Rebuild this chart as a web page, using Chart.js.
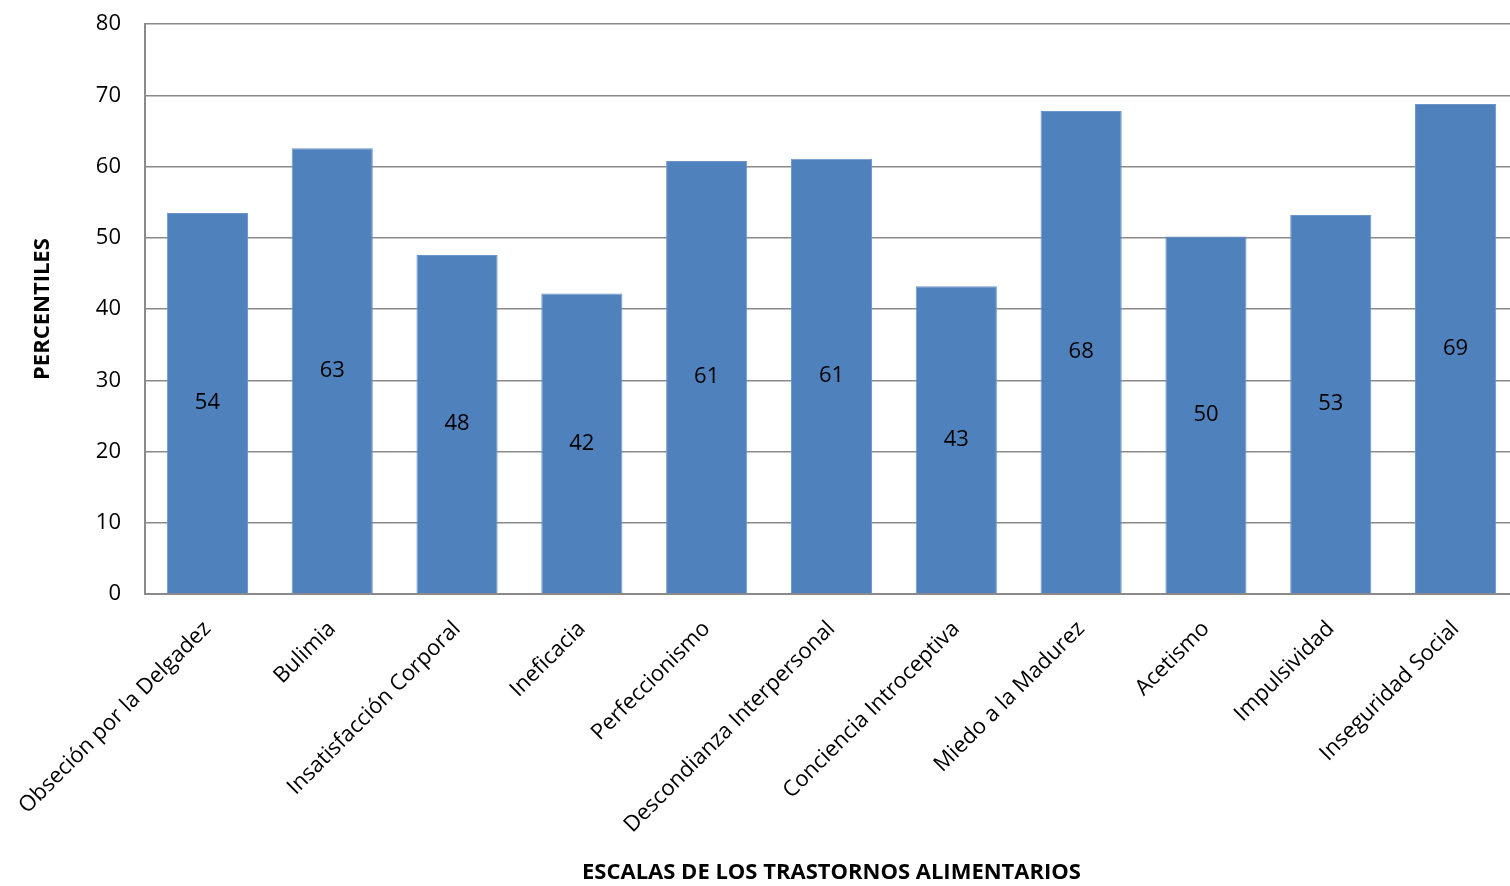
<!DOCTYPE html>
<html>
<head>
<meta charset="utf-8">
<script src="https://cdn.jsdelivr.net/npm/chart.js@4"></script>
<style>
  html, body { margin: 0; padding: 0; background: #fff; overflow: hidden; }
  #wrap { width: 1510px; height: 886px; overflow: hidden; }
  /* the plot runs a little past the right edge and the top labels sit close to the border */
  #chart { display: block; margin-top: -13px; }
</style>
</head>
<body>
<div id="wrap"><canvas id="chart" width="1518" height="899"></canvas></div>
<script>
const escalas = [
  'Obseción por la Delgadez', 'Bulimia', 'Insatisfacción Corporal', 'Ineficacia',
  'Perfeccionismo', 'Descondianza Interpersonal', 'Conciencia Introceptiva',
  'Miedo a la Madurez', 'Acetismo', 'Impulsividad', 'Inseguridad Social'
];
const percentiles = [53.5, 62.6, 47.6, 42.2, 60.8, 61.1, 43.2, 67.8, 50.2, 53.2, 68.8];
const yTicks = [0, 10, 20, 30, 40, 50, 60, 70, 80];

const FONT = '"Open Sans", Carlito, Lato, sans-serif';

// writes each bar's rounded value in the middle of the bar
const barValues = {
  id: 'barValues',
  afterDatasetsDraw(chart) {
    const ctx = chart.ctx;
    const meta = chart.getDatasetMeta(0);
    ctx.save();
    ctx.font = '22px ' + FONT;
    ctx.fillStyle = '#000';
    ctx.textAlign = 'center';
    ctx.textBaseline = 'middle';
    meta.data.forEach((bar, i) => {
      const mid = (bar.y + bar.base) / 2;
      ctx.fillText(Math.round(percentiles[i]), bar.x, mid);
    });
    ctx.restore();
  }
};

new Chart(document.getElementById('chart'), {
  type: 'bar',
  data: {
    labels: escalas,
    datasets: [{
      data: percentiles,
      backgroundColor: '#4f81bd',
      borderColor: '#6b95c8',
      borderWidth: 1,
      barPercentage: 0.65,
      categoryPercentage: 1
    }]
  },
  options: {
    responsive: false,
    animation: false,
    layout: { padding: 0 },
    plugins: {
      legend: { display: false },
      tooltip: { enabled: false }
    },
    scales: {
      x: {
        grid: { display: false },
        border: { color: '#8a8a8a', width: 2 },
        ticks: {
          color: '#000',
          font: { family: FONT, size: 22 },
          minRotation: 45,
          maxRotation: 45,
          padding: 14
        },
        title: {
          display: true,
          text: 'ESCALAS DE LOS TRASTORNOS ALIMENTARIOS',
          color: '#000',
          font: { family: FONT, size: 22, weight: 'bold' },
          padding: { top: 0, bottom: 0 }
        },
        afterFit(scale) { scale.height = 292; }
      },
      y: {
        min: 0,
        max: 80,
        afterBuildTicks(scale) { scale.ticks = yTicks.map(v => ({ value: v })); },
        grid: { color: '#8a8a8a', lineWidth: 1.5, drawTicks: false },
        border: { color: '#8a8a8a', width: 2 },
        ticks: {
          color: '#000',
          font: { family: FONT, size: 22 },
          padding: 24
        },
        title: {
          display: true,
          text: 'PERCENTILES',
          color: '#000',
          font: { family: FONT, size: 22, weight: 'bold' },
          padding: { top: 30, bottom: 0 }
        },
        afterFit(scale) { scale.width = 145; }
      }
    }
  },
  plugins: [barValues]
});
</script>
</body>
</html>
